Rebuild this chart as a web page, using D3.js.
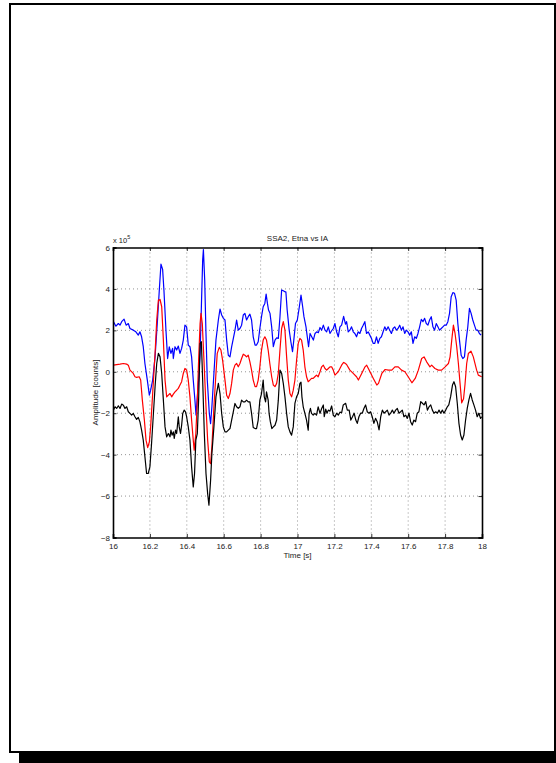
<!DOCTYPE html>
<html>
<head>
<meta charset="utf-8">
<script src="https://cdn.jsdelivr.net/npm/d3@7"></script>
<style>
  html, body { margin: 0; padding: 0; background: #fff; }
  svg { display: block; font-family: "Liberation Sans", Arial, sans-serif; }
</style>
</head>
<body>
<div id="chart"></div>
<script>
// Time [s] and amplitude (x 10^5 counts)
const blueT = [16.002,16.016,16.029,16.038,16.047,16.06,16.071,16.083,16.092,16.11,16.124,16.137,16.146,16.155,16.164,16.173,16.186,16.197,16.204,16.215,16.228,16.24,16.251,16.26,16.269,16.276,16.287,16.296,16.305,16.314,16.323,16.327,16.336,16.345,16.354,16.363,16.372,16.381,16.39,16.399,16.408,16.417,16.426,16.435,16.444,16.45,16.457,16.464,16.472,16.479,16.486,16.49,16.497,16.504,16.511,16.522,16.529,16.536,16.547,16.558,16.571,16.58,16.589,16.598,16.607,16.616,16.625,16.634,16.643,16.652,16.661,16.67,16.679,16.688,16.697,16.706,16.715,16.724,16.733,16.742,16.751,16.76,16.77,16.778,16.787,16.796,16.805,16.814,16.823,16.83,16.837,16.843,16.851,16.86,16.869,16.878,16.887,16.896,16.905,16.914,16.923,16.932,16.937,16.944,16.955,16.964,16.973,16.98,16.989,16.999,17.01,17.019,17.028,17.035,17.046,17.053,17.06,17.068,17.077,17.086,17.095,17.104,17.113,17.122,17.131,17.14,17.149,17.158,17.167,17.176,17.185,17.194,17.203,17.212,17.221,17.23,17.239,17.25,17.26,17.266,17.275,17.284,17.293,17.302,17.311,17.32,17.329,17.338,17.347,17.356,17.365,17.374,17.383,17.392,17.401,17.41,17.419,17.428,17.437,17.446,17.455,17.464,17.473,17.482,17.491,17.5,17.509,17.518,17.527,17.536,17.545,17.554,17.563,17.572,17.581,17.59,17.599,17.608,17.617,17.626,17.635,17.644,17.653,17.662,17.671,17.68,17.689,17.698,17.707,17.716,17.725,17.734,17.743,17.752,17.761,17.77,17.779,17.788,17.797,17.806,17.815,17.824,17.833,17.842,17.851,17.86,17.869,17.878,17.887,17.896,17.905,17.914,17.923,17.932,17.941,17.95,17.959,17.968,17.977,17.986,17.995];
const blueV = [2.42,2.2,2.33,2.25,2.42,2.54,2.25,2.33,2.09,2.01,1.93,1.77,1.93,1.69,1.21,0.40,-0.40,-1.13,-0.89,-0.40,0.72,2.33,3.95,5.2,4.94,3.95,2.01,0.64,1.2,0.89,1.13,0.64,1.21,1.05,1.24,0.89,1.13,1.53,2.25,2.17,1.29,1.21,0.72,-0.40,-1.37,-2.09,-1.21,-0.40,0.89,3.14,5.39,5.9,4.43,1.85,-0.40,-2.01,-2.5,-1.69,-0.08,1.53,2.5,3.03,2.74,2.58,2.5,1.53,0.80,0.72,1.2,1.6,2.0,2.5,2.01,2.09,2.25,2.74,2.82,2.5,2.66,2.78,2.5,1.69,1.29,1.29,1.45,2.09,2.66,3.14,3.3,3.75,3.3,2.98,2.82,2.17,1.21,1.53,1.64,1.61,2.66,3.95,3.91,3.86,3.86,2.98,2.01,1.45,0.97,1.53,2.33,2.5,3.14,3.7,3.14,2.66,2.17,1.69,1.21,1.85,1.69,1.53,1.85,1.93,1.89,2.14,2.01,2.25,2.01,1.93,2.17,1.85,1.98,2.09,2.33,1.93,1.69,2.17,2.25,2.68,2.3,2.42,1.93,2.01,2.17,1.93,1.85,1.69,1.93,1.85,2.09,2.25,2.42,1.85,1.93,1.77,1.61,1.37,1.37,1.69,1.37,1.61,1.69,1.93,2.17,2.01,2.17,2.01,1.85,2.09,2.17,2.01,2.09,2.25,2.01,2.17,1.85,2.01,1.93,1.77,1.93,1.37,1.69,1.61,1.85,2.17,2.53,2.42,2.58,2.33,2.25,2.5,2.66,2.17,2.01,2.33,2.17,2.01,2.09,2.17,2.25,2.25,2.42,2.82,3.62,3.82,3.79,3.46,2.33,1.53,0.8,0.64,0.72,1.53,2.17,3.06,2.82,2.5,2.25,2.01,2.01,1.85,1.77];

const redT = [16.002,16.02,16.038,16.056,16.074,16.083,16.092,16.11,16.119,16.128,16.142,16.15,16.159,16.17,16.179,16.188,16.197,16.204,16.215,16.228,16.237,16.246,16.255,16.264,16.273,16.282,16.291,16.3,16.309,16.318,16.327,16.336,16.345,16.354,16.363,16.372,16.381,16.39,16.399,16.408,16.417,16.426,16.435,16.44,16.449,16.457,16.464,16.472,16.477,16.484,16.493,16.504,16.513,16.522,16.529,16.536,16.547,16.558,16.565,16.576,16.585,16.594,16.607,16.616,16.625,16.634,16.643,16.652,16.661,16.67,16.679,16.688,16.697,16.706,16.715,16.724,16.733,16.742,16.751,16.76,16.77,16.778,16.787,16.796,16.805,16.814,16.823,16.832,16.841,16.85,16.86,16.869,16.878,16.887,16.896,16.905,16.914,16.923,16.932,16.941,16.95,16.959,16.968,16.977,16.986,16.995,17.004,17.013,17.022,17.031,17.04,17.049,17.058,17.067,17.076,17.085,17.094,17.103,17.112,17.122,17.131,17.14,17.149,17.158,17.167,17.176,17.185,17.194,17.203,17.212,17.221,17.23,17.239,17.25,17.257,17.266,17.284,17.302,17.32,17.33,17.348,17.366,17.375,17.393,17.411,17.43,17.439,17.457,17.475,17.493,17.511,17.528,17.546,17.564,17.582,17.6,17.62,17.638,17.655,17.673,17.686,17.7,17.718,17.727,17.745,17.763,17.781,17.8,17.818,17.827,17.836,17.845,17.854,17.863,17.872,17.881,17.89,17.9,17.908,17.917,17.926,17.94,17.953,17.971,17.98,17.998];
const redV = [0.32,0.35,0.37,0.40,0.37,0.32,0.08,-0.08,-0.24,-0.27,-0.24,-0.40,-1.37,-2.33,-3.3,-3.66,-3.39,-2.66,-1.05,0.89,2.49,3.46,3.49,3.14,1.53,-0.40,-1.21,-1.13,-1.05,-1.21,-1.08,-0.97,-0.89,-0.80,-0.64,-0.48,-0.08,0.16,0.08,-0.40,-1.21,-2.33,-3.3,-3.78,-2.98,-1.37,0.56,2.33,2.82,2.33,0.56,-1.69,-3.3,-4.35,-4.43,-3.62,-1.69,-0.08,0.89,1.18,1.05,0.56,-0.40,-1.13,-1.29,-1.05,-0.56,0.08,0.32,0.40,0.24,0.40,0.64,0.85,0.8,0.72,0.8,0.48,0.08,-0.40,-0.72,-0.72,-0.40,0.24,1.05,1.53,1.69,1.53,1.05,0.40,-0.24,-0.64,-0.72,-0.56,-0.08,1.05,2.09,2.42,2.01,0.72,-0.40,-1.05,-1.21,-0.89,-0.40,0.56,1.37,1.61,1.53,1.05,0.24,-0.24,-0.48,-0.40,-0.32,-0.32,-0.24,-0.16,-0.24,0.0,0.24,0.32,0.16,0.08,0.16,0.24,0.24,0.08,-0.16,-0.08,0.0,0.16,0.32,0.45,0.42,0.35,0.08,-0.08,-0.24,-0.40,-0.08,0.24,0.32,0.0,-0.32,-0.64,-0.56,-0.08,0.11,0.08,0.08,0.24,0.24,0.08,0.0,-0.24,-0.53,-0.32,0.08,0.64,0.72,0.48,0.24,0.32,0.16,0.08,0.08,0.24,0.40,0.72,1.53,2.25,1.85,1.21,0.40,-0.56,-1.5,-1.3,-0.6,0.4,0.88,1.0,0.72,0.08,-0.16,-0.24];

const blackT = [16.002,16.011,16.02,16.029,16.038,16.047,16.056,16.065,16.074,16.083,16.092,16.101,16.11,16.119,16.128,16.137,16.146,16.155,16.164,16.173,16.182,16.191,16.2,16.209,16.218,16.228,16.237,16.246,16.255,16.264,16.273,16.282,16.291,16.3,16.309,16.314,16.32,16.327,16.332,16.339,16.345,16.354,16.359,16.366,16.372,16.378,16.386,16.393,16.399,16.408,16.417,16.426,16.435,16.442,16.449,16.457,16.464,16.472,16.479,16.486,16.495,16.504,16.513,16.52,16.529,16.536,16.547,16.558,16.571,16.58,16.589,16.598,16.607,16.616,16.625,16.634,16.643,16.652,16.661,16.67,16.679,16.688,16.697,16.706,16.715,16.724,16.733,16.742,16.751,16.76,16.77,16.778,16.787,16.796,16.805,16.814,16.82,16.827,16.832,16.841,16.846,16.853,16.861,16.869,16.878,16.887,16.896,16.905,16.914,16.923,16.932,16.941,16.95,16.959,16.968,16.977,16.986,16.995,17.004,17.013,17.019,17.024,17.031,17.04,17.049,17.058,17.063,17.07,17.076,17.085,17.094,17.103,17.112,17.122,17.131,17.14,17.145,17.153,17.16,17.167,17.176,17.185,17.194,17.203,17.212,17.221,17.23,17.239,17.248,17.261,17.27,17.28,17.289,17.298,17.307,17.316,17.324,17.333,17.342,17.351,17.36,17.369,17.378,17.387,17.396,17.405,17.414,17.423,17.432,17.442,17.451,17.46,17.469,17.478,17.487,17.496,17.505,17.514,17.523,17.532,17.541,17.55,17.559,17.568,17.577,17.586,17.595,17.604,17.613,17.622,17.631,17.64,17.649,17.658,17.668,17.677,17.686,17.695,17.704,17.713,17.722,17.731,17.74,17.749,17.758,17.767,17.776,17.785,17.794,17.803,17.812,17.82,17.83,17.84,17.848,17.857,17.866,17.875,17.884,17.893,17.902,17.911,17.92,17.929,17.938,17.947,17.956,17.965,17.974,17.983,17.992,17.998];
const blackV = [-1.85,-1.69,-1.77,-1.64,-1.77,-1.56,-1.61,-1.77,-1.69,-1.93,-2.01,-2.09,-2.01,-2.17,-2.3,-2.2,-2.42,-2.82,-3.3,-4.1,-4.91,-4.91,-4.59,-3.46,-2.17,-0.72,0.40,0.89,0.72,-0.08,-1.37,-2.66,-3.14,-2.98,-3.14,-2.82,-3.06,-2.9,-3.22,-2.82,-2.98,-2.17,-2.66,-2.98,-2.58,-2.01,-1.85,-1.93,-2.17,-2.66,-3.3,-4.59,-5.56,-4.91,-3.3,-2.98,-1.37,1.37,1.45,-0.40,-2.98,-4.91,-5.88,-6.44,-5.23,-3.94,-2.66,-1.21,-0.56,-1.05,-2.01,-2.66,-2.9,-2.9,-2.82,-2.74,-2.33,-1.93,-1.53,-1.69,-1.77,-1.69,-1.37,-1.45,-1.45,-1.37,-1.45,-1.45,-2.01,-2.69,-2.74,-2.74,-2.33,-1.37,-1.05,-0.40,-1.21,-1.45,-0.97,-1.37,-2.01,-2.42,-2.74,-2.66,-2.58,-2.33,-1.37,0.08,-0.08,-0.56,-1.21,-2.01,-2.66,-2.9,-3.06,-2.66,-1.53,-1.21,-1.05,-0.56,-0.5,-1.21,-1.69,-2.01,-2.33,-2.82,-2.01,-1.77,-2.01,-2.09,-2.01,-2.09,-1.69,-2.01,-1.77,-1.6,-2.17,-1.8,-2.0,-1.85,-1.9,-1.65,-2.1,-2.17,-2.0,-2.09,-1.95,-1.98,-1.6,-1.52,-1.85,-1.85,-2.33,-2.17,-2.0,-2.33,-2.49,-2.17,-2.0,-2.0,-1.77,-1.6,-1.93,-2.0,-1.93,-2.17,-2.49,-2.25,-2.41,-2.81,-2.17,-1.85,-2.0,-1.93,-1.85,-2.09,-2.0,-1.85,-2.0,-1.85,-1.77,-2.0,-1.93,-1.85,-2.17,-2.09,-2.25,-2.0,-2.41,-2.57,-2.33,-2.41,-2.0,-1.93,-1.44,-1.52,-1.6,-1.44,-1.85,-1.69,-1.6,-1.85,-2.0,-1.93,-2.0,-1.85,-2.0,-1.85,-2.0,-1.85,-1.69,-1.6,-1.2,-0.64,-0.48,-0.72,-1.52,-2.49,-3.05,-3.29,-3.05,-2.33,-1.77,-1.36,-1.04,-1.36,-1.6,-1.85,-2.17,-2.0,-2.25,-2.17];

const xTicks = [16, 16.2, 16.4, 16.6, 16.8, 17, 17.2, 17.4, 17.6, 17.8, 18];
const yTicks = [-8, -6, -4, -2, 0, 2, 4, 6];

const series = [
  { name: 'blue', t: blueT, v: blueV, color: '#0000ff' },
  { name: 'red', t: redT, v: redV, color: '#ff0000' },
  { name: 'black', t: blackT, v: blackV, color: '#000000' }
];

const width = 556;
const height = 763;
const margin = { top: 247.5, right: 74, bottom: 225.5, left: 113 };

const svg = d3.select('#chart')
  .append('svg')
  .attr('width', width)
  .attr('height', height);

// page frame and its shadow
svg.append('rect')
  .attr('x', 19).attr('y', 752)
  .attr('width', width - 19).attr('height', 11)
  .attr('fill', '#000');
svg.append('rect')
  .attr('x', 10).attr('y', 4)
  .attr('width', 545).attr('height', 748)
  .attr('fill', '#fff')
  .attr('stroke', '#000')
  .attr('stroke-width', 2);

const x = d3.scaleLinear()
  .domain([16, 18])
  .range([margin.left, width - margin.right]);

const y = d3.scaleLinear()
  .domain([-8, 6])
  .range([height - margin.bottom, margin.top]);

const x0 = x.range()[0], x1 = x.range()[1];
const y0 = y.range()[0], y1 = y.range()[1];

// dotted grid
const grid = svg.append('g').attr('stroke', '#777').attr('stroke-width', 0.8).attr('stroke-dasharray', '1,3');
grid.selectAll('.gx')
  .data(xTicks.slice(1, -1))
  .join('line')
  .attr('x1', d => x(d)).attr('x2', d => x(d))
  .attr('y1', y0).attr('y2', y1);
grid.selectAll('.gy')
  .data(yTicks.slice(1, -1))
  .join('line')
  .attr('x1', x0).attr('x2', x1)
  .attr('y1', d => y(d)).attr('y2', d => y(d));

// traces
const line = d3.line()
  .x(d => x(d[0]))
  .y(d => y(d[1]));

svg.append('g')
  .selectAll('path')
  .data(series)
  .join('path')
  .attr('fill', 'none')
  .attr('stroke', d => d.color)
  .attr('stroke-width', 1.2)
  .attr('stroke-linejoin', 'round')
  .attr('d', d => line(d.t.map((t, i) => [t, d.v[i]])));

// axes (ticks pointing inward, box all round)
const fmt = d3.format('');
const axB = svg.append('g')
  .attr('transform', `translate(0,${y0})`)
  .call(d3.axisBottom(x).tickValues(xTicks).tickFormat(fmt).tickSize(-3.5).tickPadding(5));
const axT = svg.append('g')
  .attr('transform', `translate(0,${y1})`)
  .call(d3.axisTop(x).tickValues(xTicks).tickFormat('').tickSize(-3.5));
const axL = svg.append('g')
  .attr('transform', `translate(${x0},0)`)
  .call(d3.axisLeft(y).tickValues(yTicks).tickFormat(d3.format('')).tickSize(-3.5).tickPadding(3));
const axR = svg.append('g')
  .attr('transform', `translate(${x1},0)`)
  .call(d3.axisRight(y).tickValues(yTicks).tickFormat('').tickSize(-3.5));

[axB, axT, axL, axR].forEach(a => {
  a.select('.domain').attr('stroke', '#000').attr('stroke-width', 1.6);
  a.selectAll('.tick line').attr('stroke', '#000').attr('stroke-width', 0.8);
  a.selectAll('.tick text')
    .attr('fill', '#222')
    .style('font-size', '8px')
    .style('font-family', '"Liberation Sans", Arial, sans-serif');
});
axB.selectAll('.tick text').attr('dy', '0.75em');

// title, exponent, labels
svg.append('text')
  .attr('x', (x0 + x1) / 2)
  .attr('y', 240.5)
  .attr('text-anchor', 'middle')
  .style('font-size', '8px')
  .attr('fill', '#222')
  .text('SSA2, Etna vs IA');

const expo = svg.append('text')
  .attr('x', x0)
  .attr('y', 242.5)
  .style('font-size', '7.5px')
  .attr('fill', '#222');
expo.append('tspan').text('x 10');
expo.append('tspan').attr('dy', -3.5).style('font-size', '5.5px').text('5');

svg.append('text')
  .attr('x', (x0 + x1) / 2)
  .attr('y', 558)
  .attr('text-anchor', 'middle')
  .style('font-size', '8px')
  .attr('fill', '#222')
  .text('Time [s]');

svg.append('text')
  .attr('transform', `translate(97.5,${(y0 + y1) / 2}) rotate(-90)`)
  .attr('text-anchor', 'middle')
  .style('font-size', '8px')
  .attr('fill', '#222')
  .text('Amplitude [counts]');
</script>
</body>
</html>
